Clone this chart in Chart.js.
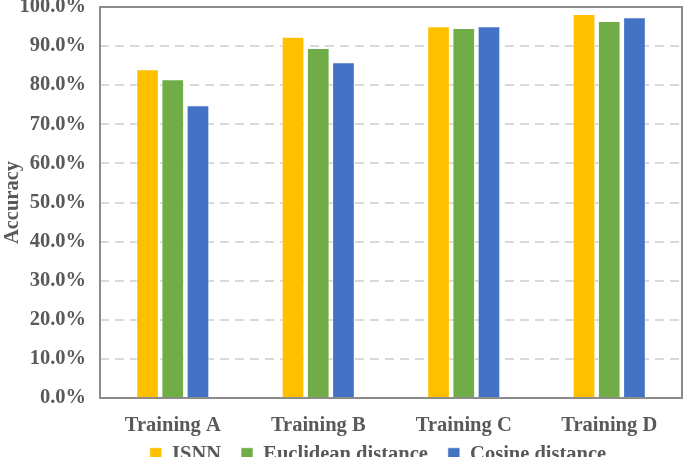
<!DOCTYPE html>
<html>
<head>
<meta charset="utf-8">
<script src="https://cdn.jsdelivr.net/npm/chart.js@4"></script>
<style>
  html, body { margin: 0; padding: 0; background: #fff; overflow: hidden; }
  #wrap { width: 685px; height: 473px; }
</style>
</head>
<body>
<div id="wrap"><canvas id="accgraph"></canvas></div>
<script>
const categories = ["Training A", "Training B", "Training C", "Training D"];
const isnn = [84.1, 92.4, 95.1, 98.2];
const euclidean = [81.5, 89.5, 94.6, 96.4];
const cosine = [74.9, 85.9, 95.1, 97.4];

const serif = "'Liberation Serif', 'Times New Roman', serif";
const fsize = 20.5;

// gray box round the plot area
const boxPlugin = {
    id: 'plotbox',
    afterDraw(chart) {
        const a = chart.chartArea;
        const c = chart.ctx;
        c.save();
        c.strokeStyle = "#8c8c8c";
        c.lineWidth = 2;
        c.strokeRect(a.left, a.top, a.right - a.left, a.bottom - a.top);
        c.restore();
    }
};

// nudge the legend a bit right and up, like the original
const legendShift = {
    id: 'legendshift',
    afterLayout(chart) {
        const lg = chart.legend;
        lg.left += 37; lg.right += 37;
        lg.top -= 16; lg.bottom -= 16;
    }
};

function bar(label, data, color) {
    return {
        label: label,
        data: data,
        backgroundColor: color,
        borderColor: "rgba(255,255,255,0.6)",
        borderWidth: 1,
        categoryPercentage: 0.52,
        barPercentage: 0.9
    };
}

new Chart(document.getElementById("accgraph"), {
    type: 'bar',
    data: {
        labels: categories,
        datasets: [
            bar("ISNN", isnn, "#FFC000"),
            bar("Euclidean distance", euclidean, "#70AD47"),
            bar("Cosine distance", cosine, "#4472C4")
        ]
    },
    options: {
        responsive: true,
        maintainAspectRatio: false,
        animation: false,
        layout: { padding: { left: 0, right: 3, top: 0, bottom: 0 } },
        plugins: {
            tooltip: { enabled: false },
            legend: {
                position: 'bottom',
                maxHeight: 33,
                labels: {
                    boxWidth: 12,
                    boxHeight: 13,
                    padding: 20,
                    color: "#595959",
                    font: { family: serif, size: fsize, weight: 'bold' }
                }
            }
        },
        scales: {
            x: {
                grid: { display: false, drawTicks: false },
                border: { display: false },
                afterFit: s => { s.height = 42; },
                ticks: {
                    color: "#595959",
                    padding: 15,
                    font: { family: serif, size: fsize, weight: 'bold' }
                }
            },
            y: {
                min: 0,
                max: 100,
                afterFit: s => { s.width = 100; s.paddingTop = 7; },
                ticks: {
                    stepSize: 10,
                    color: "#595959",
                    padding: 14,
                    font: { family: serif, size: fsize, weight: 'bold' },
                    callback: v => v.toFixed(1) + "%"
                },
                grid: {
                    color: "#d9d9d9",
                    lineWidth: 2,
                    drawTicks: false
                },
                border: { display: false, dash: [9, 6] },
                title: {
                    display: true,
                    text: "Accuracy",
                    color: "#595959",
                    padding: 0,
                    font: { family: serif, size: fsize, weight: 'bold' }
                }
            }
        }
    },
    plugins: [boxPlugin, legendShift]
});
</script>
</body>
</html>
